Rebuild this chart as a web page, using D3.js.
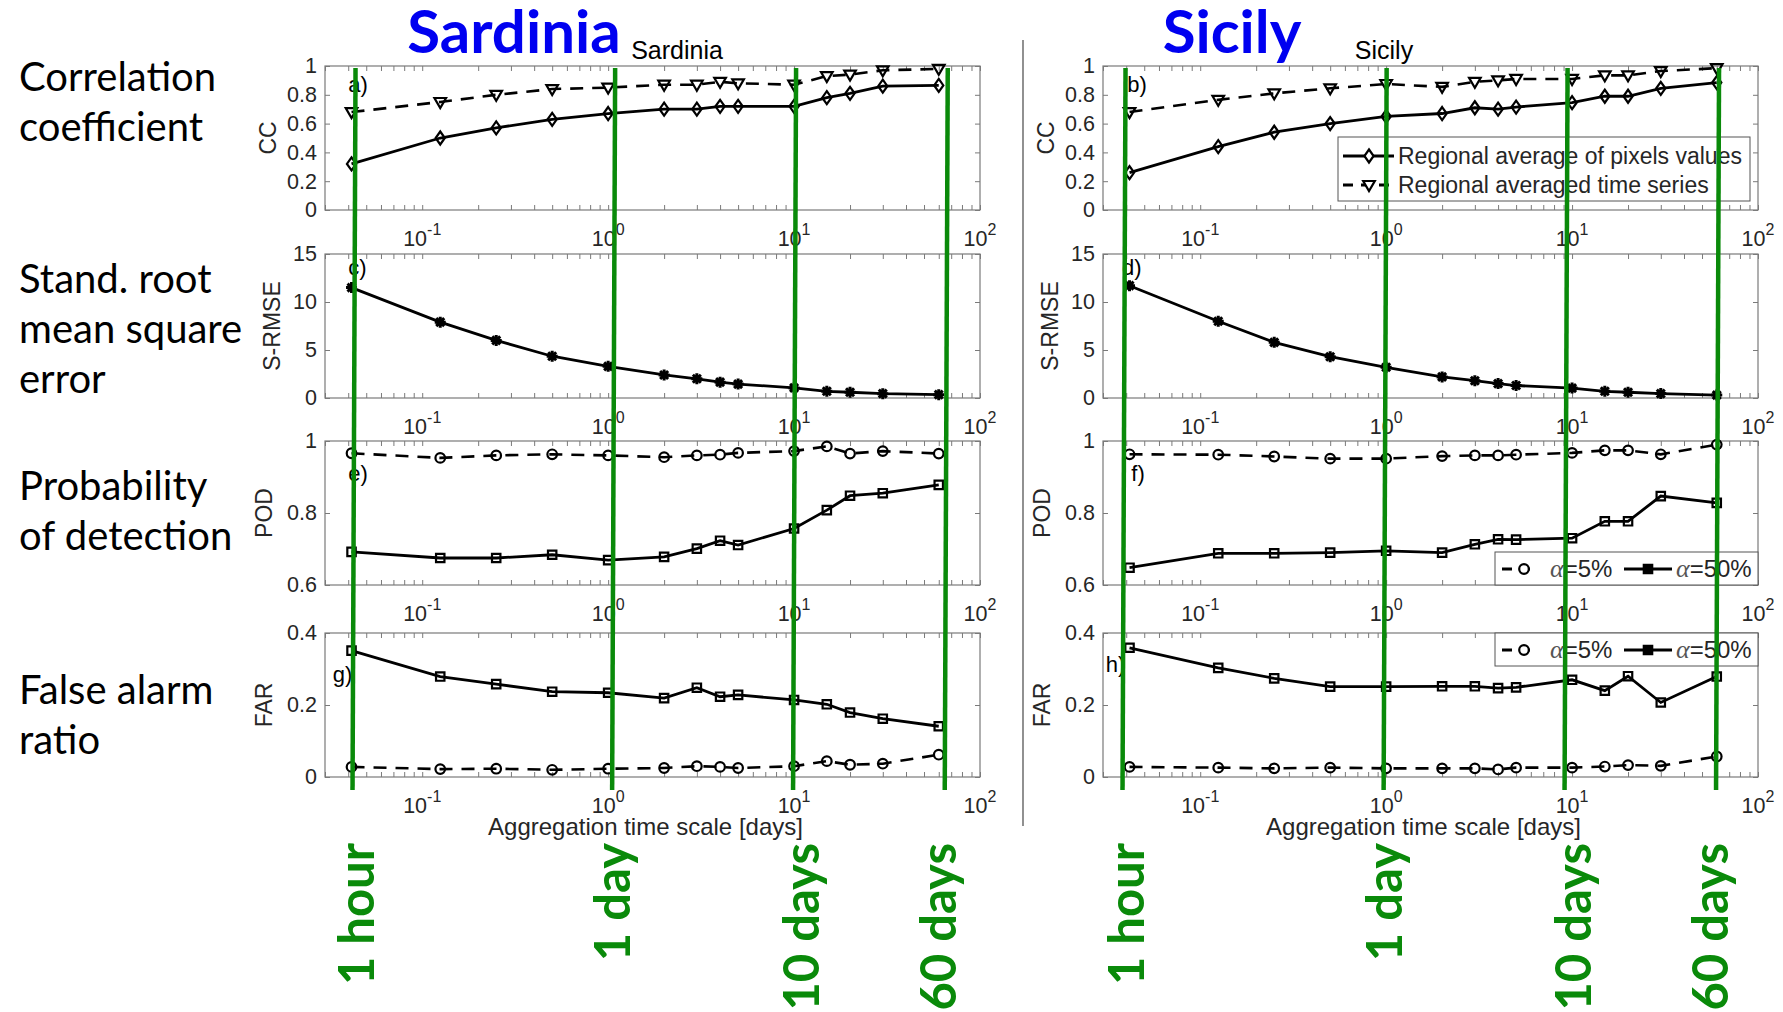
<!DOCTYPE html>
<html>
<head>
<meta charset="utf-8">
<script src="https://cdn.jsdelivr.net/npm/d3@7"></script>
<style>
body { margin: 0; background: #fff; }
svg { display: block; }
</style>
</head>
<body>
<svg id="chart" width="1783" height="1012"></svg>
<script>
// aggregation time scales in days: 1h 3h 6h 12h 1d 2d 3d 4d 5d 10d 15d 20d 30d 60d
var days = [1/24, 1/8, 1/4, 1/2, 1, 2, 3, 4, 5, 10, 15, 20, 30, 60];

// Sardinia
var sarCCpix = [0.32, 0.50, 0.57, 0.63, 0.67, 0.70, 0.70, 0.72, 0.72, 0.72, 0.78, 0.81, 0.86, 0.865];
var sarCCts  = [0.68, 0.75, 0.80, 0.84, 0.85, 0.87, 0.87, 0.89, 0.88, 0.87, 0.93, 0.94, 0.97, 0.98];
var sarRMSE  = [11.5, 7.9, 6.0, 4.35, 3.3, 2.4, 2.0, 1.65, 1.45, 1.05, 0.7, 0.6, 0.45, 0.35];
var sarPOD5  = [0.966, 0.953, 0.960, 0.963, 0.960, 0.955, 0.960, 0.962, 0.967, 0.972, 0.985, 0.965, 0.972, 0.965];
var sarPOD50 = [0.692, 0.675, 0.675, 0.684, 0.669, 0.678, 0.701, 0.723, 0.711, 0.757, 0.808, 0.848, 0.855, 0.878];
var sarFAR5  = [0.028, 0.022, 0.023, 0.020, 0.023, 0.025, 0.030, 0.028, 0.025, 0.030, 0.044, 0.034, 0.037, 0.062];
var sarFAR50 = [0.351, 0.279, 0.258, 0.237, 0.234, 0.219, 0.248, 0.223, 0.228, 0.214, 0.202, 0.179, 0.162, 0.141];

// Sicily
var sicCCpix = [0.26, 0.44, 0.54, 0.60, 0.65, 0.67, 0.71, 0.70, 0.715, 0.745, 0.79, 0.79, 0.845, 0.885];
var sicCCts  = [0.68, 0.765, 0.81, 0.845, 0.875, 0.855, 0.89, 0.90, 0.91, 0.91, 0.935, 0.935, 0.965, 0.985];
var sicRMSE  = [11.7, 8.0, 5.8, 4.3, 3.2, 2.2, 1.8, 1.5, 1.3, 1.03, 0.7, 0.6, 0.46, 0.3];
var sicPOD5  = [0.963, 0.962, 0.957, 0.951, 0.951, 0.958, 0.960, 0.960, 0.962, 0.967, 0.974, 0.974, 0.963, 0.990];
var sicPOD50 = [0.648, 0.688, 0.688, 0.690, 0.695, 0.690, 0.713, 0.727, 0.726, 0.730, 0.777, 0.777, 0.847, 0.828];
var sicFAR5  = [0.028, 0.026, 0.024, 0.026, 0.024, 0.024, 0.024, 0.021, 0.026, 0.026, 0.029, 0.033, 0.031, 0.057];
var sicFAR50 = [0.359, 0.303, 0.274, 0.251, 0.251, 0.252, 0.252, 0.247, 0.249, 0.270, 0.240, 0.280, 0.207, 0.279];

// axes
var xMajor = [0.1, 1, 10, 100];
var xExp = ["-1", "0", "1", "2"];
var ccTicks = [0, 0.2, 0.4, 0.6, 0.8, 1];
var rmseTicks = [0, 5, 10, 15];
var podTicks = [0.6, 0.8, 1];
var farTicks = [0, 0.2, 0.4];
var yLabels = ["CC", "S-RMSE", "POD", "FAR"];
var rowTitles = [["Correlation", "coefficient"], ["Stand. root", "mean square", "error"],
                 ["Probability", "of detection"], ["False alarm", "ratio"]];

// marked time scales
var markDays = [1/24, 1, 10, 60];
var markNames = ["1 hour", "1 day", "10 days", "60 days"];

var svg = d3.select("#chart");
var colLeft = [325, 1103], plotW = 655;
var rowTop = [66, 254, 441, 633], plotH = 144;
var yLabelGap = [49, 45, 53, 53];
var green = "#0a8a0a";
var axisCol = "#262626";
var sans = "Liberation Sans, Arial, sans-serif";

var regions = [
    {title: "Sardinia", titleX: 514, subX: 677,
     tags: ["a)", "c)", "e)", "g)"], tagX: [0.040, 0.040, 0.040, 0.033], tagY: [0.82, 12.8, 0.89, 0.264],
     cc: [sarCCpix, sarCCts], rmse: sarRMSE, pod: [sarPOD5, sarPOD50], far: [sarFAR5, sarFAR50],
     shift: [4, 7, 2, 9], legends: false},
    {title: "Sicily", titleX: 1232, subX: 1384,
     tags: ["b)", "d)", "f)", "h)"], tagX: [0.0405, 0.038, 0.0426, 0.031], tagY: [0.82, 12.8, 0.89, 0.292],
     cc: [sicCCpix, sicCCts], rmse: sicRMSE, pod: [sicPOD5, sicPOD50], far: [sicFAR5, sicFAR50],
     shift: [-4, 0.5, -4.5, 2.3], legends: true}
];
var labelShift = [4, 0.5, 8.5, -6];

function marker(type) {
    if (type === "diamond") return "M0,-6.5L4.6,0L0,6.5L-4.6,0Z";
    if (type === "tri") return "M-5.8,-4L5.8,-4L0,6Z";
    if (type === "circle") return "M4.8,0A4.8,4.8,0,1,1,-4.8,0A4.8,4.8,0,1,1,4.8,0Z";
    if (type === "square") return "M-4.2,-4.2H4.2V4.2H-4.2Z";
    if (type === "star") return "M-5.5,0H5.5M0,-5.5V5.5M-4,-4L4,4M-4,4L4,-4";
}

function drawSeries(g, xs, ys, vals, dashed, type) {
    var line = d3.line().x(function(d, i) { return xs(days[i]); }).y(function(d) { return ys(d); });
    g.append("path")
        .datum(vals)
        .attr("d", line)
        .attr("fill", "none")
        .attr("stroke", "#000")
        .attr("stroke-width", dashed ? 2.6 : 2.8)
        .attr("stroke-dasharray", dashed ? "13,9" : null);
    g.selectAll(null)
        .data(vals)
        .enter().append("path")
        .attr("transform", function(d, i) { return "translate(" + xs(days[i]) + "," + ys(d) + ")"; })
        .attr("d", marker(type))
        .attr("fill", "none")
        .attr("stroke", "#000")
        .attr("stroke-width", type === "star" ? 3 : 2.2);
}

function legendItem(g, x, y, len, dashed, type, mx) {
    g.append("line")
        .attr("x1", x).attr("x2", x + len).attr("y1", y).attr("y2", y)
        .attr("stroke", "#000").attr("stroke-width", 2.8)
        .attr("stroke-dasharray", dashed ? "10,8" : null);
    g.append("path")
        .attr("transform", "translate(" + (x + mx) + "," + y + ")")
        .attr("d", marker(type))
        .attr("fill", type === "square" ? "#000" : "#fff")
        .attr("stroke", "#000").attr("stroke-width", 2.2);
}

function alphaText(g, x, y, pct) {
    var t = g.append("text").attr("x", x).attr("y", y)
        .attr("font-family", sans)
        .attr("font-size", 24).attr("fill", axisCol);
    t.append("tspan").attr("font-family", "Liberation Serif, serif").attr("font-style", "italic")
        .attr("fill", "#555").attr("font-size", 26).text("\u03b1");
    t.append("tspan").text("=" + pct);
}

regions.forEach(function(reg, c) {
    var left = colLeft[c], right = left + plotW;
    var xs = d3.scaleLog().domain([0.03, 100]).range([left, right]);

    var rows = [
        {dom: [0, 1], ticks: ccTicks, series: [[reg.cc[0], false, "diamond"], [reg.cc[1], true, "tri"]]},
        {dom: [0, 15], ticks: rmseTicks, series: [[reg.rmse, false, "star"]]},
        {dom: [0.6, 1], ticks: podTicks, series: [[reg.pod[0], true, "circle"], [reg.pod[1], false, "square"]]},
        {dom: [0, 0.4], ticks: farTicks, series: [[reg.far[0], true, "circle"], [reg.far[1], false, "square"]]}
    ];

    rows.forEach(function(r, k) {
        var top = rowTop[k], bottom = top + plotH;
        var ys = d3.scaleLinear().domain(r.dom).range([bottom, top]);
        var g = svg.append("g");

        g.append("rect").attr("x", left).attr("y", top).attr("width", plotW).attr("height", plotH)
            .attr("fill", "#fff").attr("stroke", "#7a7a7a").attr("stroke-width", 1.2);

        // inward ticks on all four sides
        var axB = g.append("g").attr("transform", "translate(0," + bottom + ")")
            .call(d3.axisBottom(xs).tickValues(xs.ticks()).tickSize(-5).tickFormat(""));
        var axT = g.append("g").attr("transform", "translate(0," + top + ")")
            .call(d3.axisTop(xs).tickValues(xs.ticks()).tickSize(-5).tickFormat(""));
        var axL = g.append("g").attr("transform", "translate(" + left + ",0)")
            .call(d3.axisLeft(ys).tickValues(r.ticks).tickSize(-5).tickPadding(8).tickFormat(d3.format("~g")));
        var axR = g.append("g").attr("transform", "translate(" + right + ",0)")
            .call(d3.axisRight(ys).tickValues(r.ticks).tickSize(-5).tickFormat(""));
        [axB, axT, axL, axR].forEach(function(a) {
            a.select(".domain").remove();
            a.selectAll(".tick line").attr("stroke", "#7a7a7a");
        });
        axL.selectAll("text")
            .attr("font-family", sans)
            .attr("font-size", 21.5).attr("fill", axisCol);

        // decade labels with superscript exponent
        xMajor.forEach(function(v, i) {
            var t = g.append("text").attr("x", xs(v)).attr("y", bottom + 36)
                .attr("text-anchor", "middle")
                .attr("font-family", sans)
                .attr("font-size", 21.5).attr("fill", axisCol);
            t.append("tspan").text("10");
            t.append("tspan").attr("dy", -11).attr("font-size", 16).text(xExp[i]);
        });

        g.append("text")
            .attr("transform", "translate(" + (left - yLabelGap[k]) + "," + (top + plotH / 2) + ") rotate(-90)")
            .attr("text-anchor", "middle")
            .attr("font-family", sans)
            .attr("font-size", 23).attr("fill", axisCol)
            .text(yLabels[k]);

        r.series.forEach(function(s) { drawSeries(g, xs, ys, s[0], s[1], s[2]); });

        g.append("text").attr("x", xs(reg.tagX[k])).attr("y", ys(reg.tagY[k]))
            .attr("font-family", sans)
            .attr("font-size", 22).attr("fill", "#000")
            .text(reg.tags[k]);

        if (reg.legends && k === 0) {
            var lg = g.append("g");
            var bx = right - 420, by = top + 71;
            lg.append("rect").attr("x", bx).attr("y", by).attr("width", 412).attr("height", 64)
                .attr("fill", "#fff").attr("stroke", "#555").attr("stroke-width", 1);
            legendItem(lg, bx + 5, by + 19, 51, false, "diamond", 26);
            legendItem(lg, bx + 5, by + 48, 51, true, "tri", 26);
            lg.append("text").attr("x", bx + 60).attr("y", by + 27)
                .attr("font-family", sans)
                .attr("font-size", 23).attr("fill", axisCol).text("Regional average of pixels values");
            lg.append("text").attr("x", bx + 60).attr("y", by + 56)
                .attr("font-family", sans)
                .attr("font-size", 23).attr("fill", axisCol).text("Regional averaged time series");
        }
        if (reg.legends && k >= 2) {
            var lg2 = g.append("g");
            var bx2 = right - 263, by2 = (k === 2) ? bottom - 33 : top;
            lg2.append("rect").attr("x", bx2).attr("y", by2).attr("width", 263).attr("height", 33)
                .attr("fill", "#fff").attr("stroke", "#555").attr("stroke-width", 1);
            legendItem(lg2, bx2 + 7, by2 + 17, 36, true, "circle", 22);
            alphaText(lg2, bx2 + 55, by2 + 25, "5%");
            legendItem(lg2, bx2 + 129, by2 + 17, 48, false, "square", 24);
            alphaText(lg2, bx2 + 181, by2 + 25, "50%");
        }
    });

    svg.append("text").attr("x", left + plotW / 2 - 7).attr("y", 835)
        .attr("text-anchor", "middle")
        .attr("font-family", sans)
        .attr("font-size", 24).attr("fill", axisCol)
        .text("Aggregation time scale [days]");

    svg.append("text").attr("x", reg.subX).attr("y", 59)
        .attr("text-anchor", "middle")
        .attr("font-family", sans)
        .attr("font-size", 25).attr("fill", "#000")
        .text(reg.title);

    svg.append("text").attr("x", reg.titleX).attr("y", 53)
        .attr("text-anchor", "middle")
        .attr("font-family", "Lato, sans-serif").attr("font-weight", 700)
        .attr("font-size", 60).attr("fill", "#0000f0")
        .text(reg.title);

    // hand-drawn green markers of the time scales
    markDays.forEach(function(d, i) {
        var xt = xs(d) + reg.shift[i], xb = xt - 3;
        svg.append("line").attr("x1", xt).attr("y1", 68).attr("x2", xb).attr("y2", 790)
            .attr("stroke", green).attr("stroke-width", 4.5);
        svg.append("text")
            .attr("transform", "translate(" + (xb + labelShift[i]) + ",843) rotate(-90)")
            .attr("dy", "0.36em")
            .attr("text-anchor", "end")
            .attr("font-family", "Lato, sans-serif").attr("font-weight", 700)
            .attr("font-size", 49).attr("fill", green)
            .text(markNames[i]);
    });
});

// separator between the two regions
svg.append("line").attr("x1", 1023).attr("x2", 1023).attr("y1", 40).attr("y2", 826)
    .attr("stroke", "#555").attr("stroke-width", 1.3);

// row titles
rowTitles.forEach(function(lines, k) {
    var t = svg.append("text")
        .attr("font-family", "Lato, sans-serif")
        .attr("font-size", 40).attr("fill", "#000");
    var base = [91, 293, 500, 704][k];
    lines.forEach(function(s, j) {
        t.append("tspan").attr("x", 19).attr("y", base + j * 50).text(s);
    });
});
</script>
</body>
</html>
